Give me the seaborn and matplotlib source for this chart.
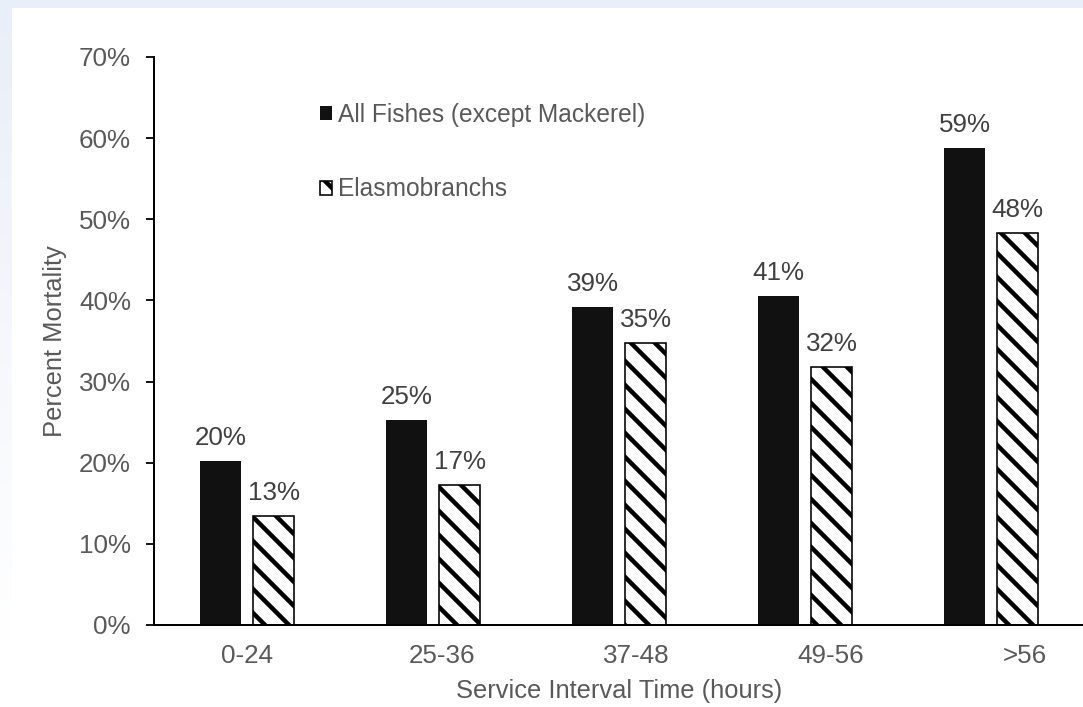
import numpy as np
import pandas as pd
import matplotlib
matplotlib.use("Agg")
import matplotlib.pyplot as plt
import seaborn as sns
from matplotlib.patches import Patch, Rectangle
from matplotlib.ticker import PercentFormatter

# Mortality by service interval
categories = ["0-24", "25-36", "37-48", "49-56", ">56"]
series_names = ["All Fishes (except Mackerel)", "Elasmobranchs"]
all_fishes = [0.202, 0.253, 0.392, 0.406, 0.588]
elasmobranchs = [0.134, 0.173, 0.347, 0.318, 0.483]
y_ticks = [0.0, 0.1, 0.2, 0.3, 0.4, 0.5, 0.6, 0.7]

df = pd.DataFrame({
    "interval": categories * 2,
    "series": [series_names[0]] * len(categories) + [series_names[1]] * len(categories),
    "mortality": all_fishes + elasmobranchs,
})

sns.set_theme(style="white")
plt.rcParams["font.family"] = ["Liberation Sans", "DejaVu Sans"]
plt.rcParams["hatch.linewidth"] = 4.5
plt.rcParams["hatch.color"] = "black"

TEXT = "#595959"
VALUE = "#404040"
FS_TICK = 26
FS_TITLE = 25.5
FS_LEG = 24.5

W, H, DPI = 1083, 707, 72
fig = plt.figure(figsize=(W / DPI, H / DPI), dpi=DPI)
fig.patch.set_facecolor("white")

# soft frame along the top and left edges
fig.patches.append(Rectangle((0, 1 - 8 / H), 1, 8 / H, transform=fig.transFigure,
                             facecolor="#e9eff8", edgecolor="none", zorder=0))
band = fig.add_axes([0, (H - 640) / H, 12 / W, (640 - 8) / H])
grad = np.linspace(0, 1, 256).reshape(-1, 1)
top_rgb = np.array([0.914, 0.937, 0.973])
img = top_rgb[None, None, :] * (1 - grad[..., None]) + np.ones(3)[None, None, :] * grad[..., None]
band.imshow(img, aspect="auto", extent=[0, 1, 0, 1])
band.set_axis_off()

ax = fig.add_axes([154 / W, (H - 625) / H, 930 / W, (625 - 57) / H])
sns.barplot(data=df, x="interval", y="mortality", hue="series", order=categories,
            hue_order=series_names, palette=["#111111", "white"], width=0.57, gap=0.228,
            edgecolor="black", linewidth=0, legend=False, ax=ax, zorder=2)

solid, hatched = ax.containers[0], ax.containers[1]
for p in solid:
    p.set_edgecolor("#111111")
    p.set_linewidth(0)
for p in hatched:
    p.set_hatch("\\")
    p.set_edgecolor("black")
    p.set_linewidth(1.6)

for cont in ax.containers:
    ax.bar_label(cont, labels=[f"{v:.0%}" for v in cont.datavalues], padding=11,
                 fontsize=FS_TICK, color=VALUE)

ax.set_ylim(0, 0.7)
ax.set_yticks(y_ticks)
ax.yaxis.set_major_formatter(PercentFormatter(1.0, decimals=0))

# category labels sit on a slightly wider pitch than the bar groups
label_pitch = 1.0457
ax.set_xticks([i * label_pitch for i in range(len(categories))], categories)
ax.set_xlim(-0.5, len(categories) - 0.5)

ax.set_facecolor("none")
for side in ("top", "right"):
    ax.spines[side].set_visible(False)
for side in ("left", "bottom"):
    ax.spines[side].set_color("black")
    ax.spines[side].set_linewidth(2)
    ax.spines[side].set_zorder(3)

ax.tick_params(axis="y", which="major", left=True, length=8, width=1.8, color="black",
               direction="out", pad=15, labelsize=FS_TICK, labelcolor=TEXT)
ax.tick_params(axis="x", bottom=False, length=0, pad=19, labelsize=FS_TICK, labelcolor=TEXT)

ax.set_xlabel("Service Interval Time (hours)", fontsize=FS_TITLE, color=TEXT, labelpad=11)
ax.set_ylabel("Percent Mortality", fontsize=FS_TITLE, color=TEXT, labelpad=12)

handles = [
    Patch(facecolor="#111111", edgecolor="#111111", linewidth=0),
    Patch(facecolor="white", edgecolor="black", linewidth=1.6, hatch="\\"),
]
ax.legend(handles, series_names, loc="upper left", bbox_to_anchor=(166 / 930, 1 - 46 / 568),
          frameon=False, fontsize=FS_LEG, labelcolor=TEXT, handlelength=0.49,
          handleheight=0.49, handletextpad=0.25, labelspacing=2.06, borderaxespad=0,
          borderpad=0)

fig.savefig("out.png", dpi=DPI)
